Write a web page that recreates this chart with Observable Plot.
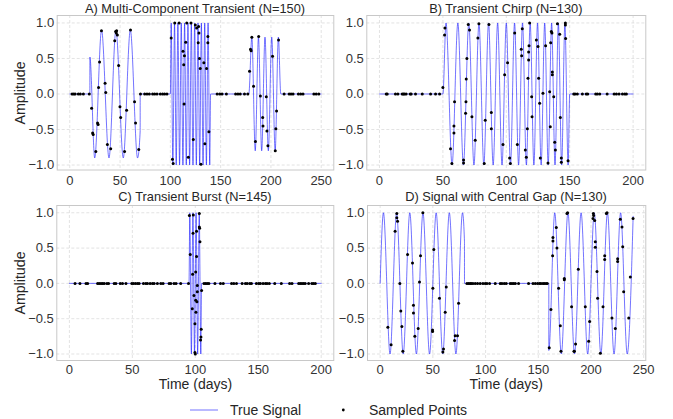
<!DOCTYPE html>
<html><head><meta charset="utf-8">
<script src="https://cdn.jsdelivr.net/npm/d3@7"></script>
<script src="https://cdn.jsdelivr.net/npm/@observablehq/plot@0.6"></script>
<style>
body{margin:0;background:#fff;font-family:"Liberation Sans",Arial,sans-serif;}
#root{position:relative;width:673px;height:419px;overflow:hidden;}
#root svg{position:absolute;left:0;top:0;}
.t{position:absolute;white-space:nowrap;color:#262626;transform:translate(-50%,-50%);line-height:1;}
</style></head>
<body><div id="root"></div>
<script>
// ---------- titles ----------
const titles = ["A) Multi-Component Transient (N=150)","B) Transient Chirp (N=130)","C) Transient Burst (N=145)","D) Signal with Central Gap (N=130)"];
const yLabel = "Amplitude";
const xLabel = "Time (days)";
const legendLabels = ["True Signal","Sampled Points"];
const yTicks = [-1,-0.5,0,0.5,1];
const xTicksA = [0,50,100,150,200,250];
const xTicksB = [0,50,100,150,200];

// ---------- true signal key points (extrema / segment edges) [t, y] ----------
const signalA = [[0,0],[19.99,0],[20,0.52],[24.8,-0.9],[31.6,0.9],[39,-0.9],[45.9,0.9],[53.2,-0.9],[60.2,0.9],[67.4,-0.9],[69.99,-0.52],[70,0],
 [100,0],[100.83,1],[102.5,-1],[104.17,1],[105.83,-1],[107.5,1],[109.17,-1],[110.83,1],[112.5,-1],[114.17,1],[115.83,-1],[117.5,1],[119.17,-1],[120.83,1],[122.5,-1],[124.17,1],[125.83,-1],[127.5,1],[129.17,-1],[130.83,1],[132.5,-1],[134.17,1],[135.83,-1],[137.5,1],[139.17,-1],[140,0],
 [178,0],[181,0.8],[184.4,-0.8],[187.6,0.8],[190.8,-0.8],[194.1,0.8],[197.4,-0.8],[200.8,0.8],[204.2,-0.8],[207.4,0.8],[209.8,0],[250,0]];
const signalB = [[0,0],[50,0],[52.47,1],[57.24,-1],[61.8,1],[66.19,-1],[70.42,1],[74.5,-1],[78.45,1],[82.29,-1],[86.01,1],[89.64,-1],[93.18,1],[96.63,-1],[100,1],[103.3,-1],[106.52,1],[109.69,-1],[112.79,1],[115.83,-1],[118.82,1],[121.76,-1],[124.64,1],[127.48,-1],[130.28,1],[133.03,-1],[135.74,1],[138.41,-1],[141.05,1],[143.65,-1],[146.21,1],[148.75,-1],[150,0],[200,0]];
const signalC = [[0,0],[95,0],[95.625,1],[96.875,-1],[98.125,1],[99.375,-1],[100.625,1],[101.875,-1],[103.125,1],[104.375,-1],[105,0],[200,0]];
const signalD = [[0,0],[3.125,1],[9.375,-1],[15.625,1],[21.875,-1],[28.125,1],[34.375,-1],[40.625,1],[46.875,-1],[53.125,1],[59.375,-1],[65.625,1],[71.875,-1],[78.125,1],[79.99,0.59],[80,0],
 [160,0],[160.01,-0.95],[165.625,1],[171.875,-1],[178.125,1],[184.375,-1],[190.625,1],[196.875,-1],[203.125,1],[209.375,-1],[215.625,1],[221.875,-1],[228.125,1],[234.375,-1],[240,0.95]];

// ---------- sampled points: times sampled where the signal is flat (y = 0) ----------
const zerosA = [2.3,3.9,5.3,8.5,10.5,13.5,19.4,70.3,74.5,76.8,79.1,82.4,84.4,86.7,90,92.3,94.3,96.6,146.5,149.1,151.4,155.7,164.9,167.2,169.5,173.7,177,213.1,218.1,220,222,227.3,229.6,231.9,242.7,245,247.6];
const zerosB = [5.3,6.1,12.6,14.5,17.9,18.9,19.7,21,24.2,25,28.4,33.7,40.3,44.2,47.4,153.2,154.2,156,160,163,164.2,170.5,171.8,173.7,179.5,185,186.8,188.9,191.6,193.4,194.7];
const zerosC = [4.5,8.4,13.2,14.5,22.4,23.7,25.1,26.4,27.7,29.8,31.1,35.6,36.9,40.4,42.2,44.9,49.6,50.9,52.5,54.1,55.4,58.8,60.7,62,64.1,66,67.3,69.9,72.6,74.4,79.2,80.5,83.1,84.7,88.4,94.6,106.9,108.2,109.5,110.8,115.6,120,122.2,128.8,130.6,132.7,137.2,139.8,141.2,143.3,144.6,148.5,150.4,151.7,153.8,155.7,157,158.8,163.1,168.3,174.9,176.8,182.1,183.4,184.7,186,187.3,190,192.6,193.9,195.3];
const zerosD = [82.3,83.9,85.4,86.4,88,90.2,92.4,94.9,97.5,99.7,101.3,103.8,109.2,113.9,115.5,117.7,119.6,123.4,125,126.6,128.2,131.3,140.8,145,147.2,149.4,151.3,152.5,154.4,155.7,157.3,158.5];

// ---------- sampled points on the oscillating parts [t, y] ----------
const pointsA = [[21.7,-0.2],[22.7,-0.55],[23.3,-0.57],[25.9,-0.81],[27.6,-0.41],[28.2,-0.43],[28.6,0.09],[29.6,0.45],[31.5,0.89],[35.1,0.15],[35.8,0.02],[37.4,-0.71],[40.7,-0.77],[44.7,0.75],[45.6,0.88],[46.3,0.86],[46.6,0.89],[47.3,0.83],[48.6,0.4],[49.9,-0.18],[50.6,-0.33],[54.5,-0.81],[56.5,-0.23],[60.4,0.9],[64.4,-0.11],[65.4,-0.41],[68.6,-0.78],
 [100.8,0.79],[102.1,-0.92],[102.8,-0.98],[104.4,1.0],[108.7,1.0],[112.6,0.6],[113.3,0.41],[114,0.54],[113.6,-0.14],[115.3,0.73],[116.3,1.0],[117.9,-0.89],[120.5,1.0],[122.8,-0.64],[124.8,0.97],[126.1,0.93],[128.1,0.95],[128.4,0.86],[127.7,0.72],[129,0.5],[129.7,0.36],[130.4,-0.99],[133.3,0.44],[134.3,-0.7],[136,0.36],[137.3,0.81],[137.3,0.72],[138.3,-0.53],
 [178.7,0.32],[179.7,0.63],[180.3,0.61],[181,0.8],[182.7,0.11],[184.6,-0.67],[187.8,0.81],[189.5,-0.03],[191.8,-0.33],[192.1,-0.45],[195.4,-0.04],[196,-0.52],[197,-0.73],[201.6,0.53],[204.3,-0.8],[204.9,-0.49],[205.6,-0.24],[207.6,0.76]];
const pointsB = [[50,0.09],[51.6,0.93],[51.3,0.83],[56,-0.77],[57.1,-0.98],[59.2,-0.11],[58.7,-0.45],[58.7,-0.55],[66.3,-0.97],[66.3,-0.93],[67.9,-0.27],[68.2,-0.11],[68.4,0.21],[68.9,0.5],[70,0.98],[71,0.9],[72.9,-0.32],[75.5,-0.65],[77.6,0.79],[78.4,0.99],[82.6,-0.98],[83.4,-0.37],[86.3,0.98],[88.2,-0.26],[88.2,-0.49],[97.4,-0.71],[98.7,0.27],[101,0.44],[102.6,-0.9],[103.2,-0.98],[106.6,0.86],[108.7,-0.71],[111.8,0.63],[112.1,0.54],[112.6,0.92],[115,-0.79],[115.8,-0.89],[116.6,-0.49],[117.1,0.22],[117.6,0.59],[117.6,0.48],[117.9,0.68],[118.4,1.0],[120.3,-0.32],[120,-0.04],[123.7,0.76],[125,0.67],[125.5,0.22],[126.3,-0.13],[126.8,-0.9],[128.9,0.01],[131,0.68],[132.9,-0.97],[134.2,0.03],[134.7,-0.46],[135,0.72],[135.5,0.88],[136,0.86],[136.3,0.31],[136.3,0.27],[137.4,-0.04],[138.2,-0.68],[138.7,-0.79],[140.3,0.99],[142.1,0.84],[142.6,-0.33],[143.4,-0.9],[143.4,-0.96],[146.6,1.0],[146.6,0.97],[146.8,0.78],[148.7,-0.94]];
const pointsC = [[95.3,0.96],[96,0.41],[97.6,-0.36],[97.9,0.13],[98.2,0.71],[98.4,0.97],[98.9,-0.17],[99.7,-0.57],[99.7,-0.98],[100,-1.0],[100.3,0.16],[100.5,-0.41],[100.3,-0.24],[101,0.74],[101,0.38],[101.3,-0.26],[101.6,-0.12],[101.6,-0.03],[103.2,0.99],[103.2,0.8],[103.4,0.78],[103.7,0.59],[104.2,-0.8],[104.5,-0.76],[104.7,-0.65],[105,-0.1]];
const pointsD = [[7.3,-0.62],[10.4,-0.87],[14.2,0.74],[15.8,0.99],[15.8,0.93],[16.5,0.88],[18.7,0],[19.6,-0.39],[20.6,-0.61],[21.5,-0.96],[26,0.41],[30.7,0.29],[31.6,-0.31],[31.6,-0.42],[32.9,-0.75],[36.1,-0.64],[37.3,0.02],[38.3,0.39],[40.5,1.0],[49.7,-0.66],[49.7,-0.68],[50,-0.07],[50.9,0.48],[56.3,-0.21],[59.5,-0.97],[60.1,-0.93],[61.7,-0.41],[62.7,-0.05],[70.6,-0.81],[71.2,-0.74],[73.4,-0.74],[74.4,-0.28],
 [160.4,-0.91],[162,-0.37],[163.6,0.39],[163.9,0.6],[163.9,0.65],[167.1,0.79],[167.7,0.5],[169.3,-0.07],[170.9,-0.6],[171.5,-0.96],[174.7,0.05],[174.7,0.07],[177.2,0.99],[177.8,1.0],[181.6,-0.33],[183.9,-0.96],[184.2,-0.96],[185.4,-0.86],[188,0.2],[194.6,-0.33],[197.8,-0.82],[198.7,-0.54],[201.9,0.92],[202.2,0.99],[202.5,0.96],[203.5,0.89],[204.1,0.59],[204.1,0.51],[205.7,0.17],[206.3,-0.21],[208.9,-0.99],[211.4,-0.33],[213,0.39],[213,0.34],[214.6,0.99],[215.2,1.0],[219.9,-0.49],[223.1,-0.64],[225.3,0.35],[225.3,0.31],[227.8,0.91],[229.4,0.8],[230.1,0.52],[231,-0.12],[235.8,-0.49],[237.3,0.09],[239.9,0.92]];

// ---------- drawing ----------
const W = 673, H = 419;
const root = document.getElementById("root");
const fmt = d3.format(".1f");
const toRows = a => a.map(([t, y]) => ({t, y}));
const samples = (z, p) => z.map(t => ({t, y: 0})).concat(toRows(p));

function panel(o) {
  const chart = Plot.plot({
    width: W, height: H,
    marginLeft: o.l, marginRight: W - o.r, marginTop: o.t, marginBottom: H - o.b,
    style: {background: "transparent", fontFamily: "'Liberation Sans', Arial, sans-serif", overflow: "visible"},
    x: {domain: o.xd},
    y: {domain: o.yd},
    marks: [
      Plot.gridX(o.xt, {stroke: "#dcdcdc", strokeOpacity: 1, strokeDasharray: "3,2", strokeWidth: 0.8}),
      Plot.gridY(yTicks, {stroke: "#dcdcdc", strokeOpacity: 1, strokeDasharray: "3,2", strokeWidth: 0.8}),
      Plot.axisX(o.xt, {tickSize: 0, tickPadding: o.xp, label: null, fontSize: 13, fill: "#333"}),
      Plot.axisY(yTicks, {tickSize: 0, tickPadding: 3, label: null, fontSize: 13, fill: "#333", tickFormat: fmt}),
      Plot.line(toRows(o.sig), {x: "t", y: "y", curve: "monotone-x", stroke: "#0000ff", strokeOpacity: 0.55, strokeWidth: 1}),
      Plot.dot(samples(o.z, o.p), {x: "t", y: "y", r: 1.5, fill: "#000", stroke: null}),
      Plot.frame({stroke: "#c8c8c8", strokeWidth: 1})
    ]
  });
  root.appendChild(chart);
}

panel({l: 56.7, r: 333.3, t: 15, b: 169.5, xd: [-12.5, 262.5], yd: [-1.07, 1.105], xt: xTicksA, xp: 6, sig: signalA, z: zerosA, p: pointsA});
panel({l: 366.3, r: 645.3, t: 15, b: 169.5, xd: [-10, 210], yd: [-1.07, 1.105], xt: xTicksB, xp: 6, sig: signalB, z: zerosB, p: pointsB});
panel({l: 56.3, r: 333.3, t: 205, b: 360, xd: [-10, 210], yd: [-1.092, 1.103], xt: xTicksB, xp: 4, sig: signalC, z: zerosC, p: pointsC});
panel({l: 367, r: 645.3, t: 205, b: 360, xd: [-12, 252], yd: [-1.092, 1.103], xt: xTicksA, xp: 4, sig: signalD, z: zerosD, p: pointsD});

function label(text, x, y, size, rot) {
  const d = document.createElement("div");
  d.className = "t";
  d.textContent = text;
  d.style.left = x + "px"; d.style.top = y + "px"; d.style.fontSize = size + "px";
  if (rot) d.style.transform = "translate(-50%,-50%) rotate(-90deg)";
  root.appendChild(d);
}
label(titles[0], 195, 8.5, 12.8);
label(titles[1], 505.8, 8.5, 12.8);
label(titles[2], 195, 197, 12.8);
label(titles[3], 506, 197, 12.8);
label(yLabel, 19.5, 92.5, 14.2, true);
label(yLabel, 19.5, 283, 14.2, true);
label(xLabel, 195.5, 383.5, 14);
label(xLabel, 506.3, 383.5, 14);

// legend
const lg = d3.select(root).append("svg").attr("width", W).attr("height", H).style("pointer-events", "none");
lg.append("line").attr("x1", 190).attr("x2", 218).attr("y1", 410).attr("y2", 410).attr("stroke", "#0000ff").attr("stroke-opacity", 0.55).attr("stroke-width", 1);
lg.append("circle").attr("cx", 343.3).attr("cy", 410).attr("r", 1.4).attr("fill", "#000");
lg.append("text").attr("x", 230).attr("y", 410).attr("dy", "0.35em").attr("font-size", 14).attr("fill", "#262626").attr("font-family", "'Liberation Sans', Arial, sans-serif").text(legendLabels[0]);
lg.append("text").attr("x", 369).attr("y", 410).attr("dy", "0.35em").attr("font-size", 14).attr("fill", "#262626").attr("font-family", "'Liberation Sans', Arial, sans-serif").text(legendLabels[1]);
</script>
</body></html>
